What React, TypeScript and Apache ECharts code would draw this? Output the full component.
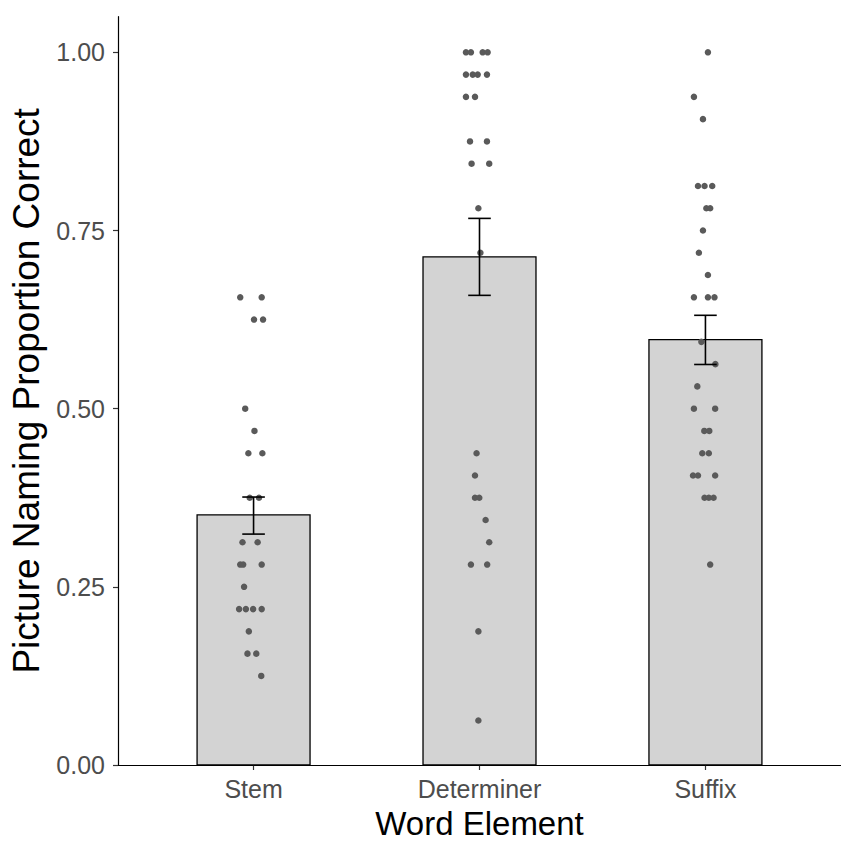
import React, { useEffect, useRef } from "react";
import * as echarts from "echarts";

// Word element categories (x axis)
const categories = ["Stem", "Determiner", "Suffix"];

// Group means and standard-error bounds
const meanValues = [0.351, 0.713, 0.597];
const errorLow = [0.324, 0.659, 0.562];
const errorHigh = [0.376, 0.767, 0.631];

// Y axis tick values
const yTicks = [0, 0.25, 0.5, 0.75, 1.0];

// Individual proportions: [proportion correct, horizontal jitter in category units]
const stemPoints: [number, number][] = [
  [0.65625, -0.059], [0.65625, 0.036],
  [0.625, 0.002], [0.625, 0.042],
  [0.5, -0.037],
  [0.46875, 0.004],
  [0.4375, -0.023], [0.4375, 0.039],
  [0.375, -0.017], [0.375, 0.024],
  [0.3125, -0.049], [0.3125, 0.018],
  [0.28125, -0.059], [0.28125, -0.046], [0.28125, 0.036],
  [0.25, -0.042],
  [0.21875, -0.064], [0.21875, -0.034], [0.21875, -0.002], [0.21875, 0.036],
  [0.1875, -0.021],
  [0.15625, -0.027], [0.15625, 0.012],
  [0.125, 0.034],
];

const determinerPoints: [number, number][] = [
  [1.0, -0.06], [1.0, -0.038], [1.0, 0.014], [1.0, 0.036],
  [0.96875, -0.06], [0.96875, -0.03], [0.96875, -0.008], [0.96875, 0.033],
  [0.9375, -0.06], [0.9375, -0.02],
  [0.875, -0.042], [0.875, 0.033],
  [0.84375, -0.035], [0.84375, 0.043],
  [0.78125, -0.005],
  [0.71875, 0.004],
  [0.4375, -0.013],
  [0.40625, -0.02],
  [0.375, -0.02], [0.375, -0.001],
  [0.34375, 0.027],
  [0.3125, 0.043],
  [0.28125, -0.038], [0.28125, 0.034],
  [0.1875, -0.005],
  [0.0625, -0.005],
];

const suffixPoints: [number, number][] = [
  [1.0, 0.011],
  [0.9375, -0.051],
  [0.90625, -0.011],
  [0.8125, -0.033], [0.8125, -0.004], [0.8125, 0.03],
  [0.78125, 0.004], [0.78125, 0.021],
  [0.75, -0.011],
  [0.71875, -0.029],
  [0.6875, 0.011],
  [0.65625, -0.051], [0.65625, 0.011], [0.65625, 0.04],
  [0.59375, -0.018],
  [0.5625, 0.044],
  [0.53125, -0.036],
  [0.5, -0.051], [0.5, 0.043],
  [0.46875, -0.005], [0.46875, 0.017],
  [0.4375, -0.014], [0.4375, 0.015],
  [0.40625, -0.055], [0.40625, -0.033], [0.40625, 0.043],
  [0.375, -0.004], [0.375, 0.015], [0.375, 0.036],
  [0.28125, 0.021],
];

const FONT = "'Liberation Sans', Arial, Helvetica, sans-serif";
const BAR_HALF = 0.25;
const CAP_HALF = 0.05;

export default function App() {
  const ref = useRef<HTMLDivElement>(null);

  useEffect(() => {
    document.body.style.margin = "0";
    if (!ref.current) return;
    const chart = echarts.init(ref.current, null, { renderer: "svg" });

    const groups = [stemPoints, determinerPoints, suffixPoints];
    const pointData: number[][] = [];
    groups.forEach((pts, gi) => {
      pts.forEach(([v, j]) => pointData.push([gi + 1 + j, v]));
    });

    const barData = meanValues.map((m, i) => [i + 1, m]);
    const errData = meanValues.map((_, i) => [i + 1, errorLow[i], errorHigh[i]]);

    chart.setOption({
      animation: false,
      backgroundColor: "#ffffff",
      grid: { left: 118, right: -5, top: 16.7, bottom: 72.3, containLabel: false },
      xAxis: {
        type: "value",
        min: 0.4,
        max: 3.6,
        name: "Word Element",
        nameLocation: "middle",
        nameGap: 42,
        nameTextStyle: { fontFamily: FONT, fontSize: 33, color: "#000000" },
        axisLine: { show: true, onZero: false, lineStyle: { color: "#000000", width: 1.2 } },
        axisTick: {
          show: true,
          customValues: [1, 2, 3],
          length: 5,
          lineStyle: { color: "#333333", width: 1.2 },
        },
        axisLabel: {
          customValues: [1, 2, 3],
          formatter: (v: number) => categories[Math.round(v) - 1] ?? "",
          margin: 11,
          fontFamily: FONT,
          fontSize: 25,
          color: "#4d4d4d",
        },
        splitLine: { show: false },
      },
      yAxis: {
        type: "value",
        min: 0,
        max: 1.05,
        name: "Picture Naming Proportion Correct",
        nameLocation: "middle",
        nameGap: 72,
        nameTextStyle: { fontFamily: FONT, fontSize: 37, color: "#000000" },
        axisLine: { show: true, onZero: false, lineStyle: { color: "#000000", width: 1.2 } },
        axisTick: {
          show: true,
          customValues: yTicks,
          length: 5,
          lineStyle: { color: "#333333", width: 1.2 },
        },
        axisLabel: {
          customValues: yTicks,
          formatter: (v: number) => v.toFixed(2),
          margin: 13,
          fontFamily: FONT,
          fontSize: 25,
          color: "#4d4d4d",
        },
        splitLine: { show: false },
      },
      series: [
        {
          type: "custom",
          name: "mean",
          data: barData,
          z: 1,
          renderItem: (params: any, api: any) => {
            const x = api.value(0);
            const y = api.value(1);
            const p0 = api.coord([x - BAR_HALF, y]);
            const p1 = api.coord([x + BAR_HALF, 0]);
            return {
              type: "rect",
              shape: { x: p0[0], y: p0[1], width: p1[0] - p0[0], height: p1[1] - p0[1] },
              style: { fill: "#d3d3d3", stroke: "#000000", lineWidth: 1.3 },
            };
          },
        },
        {
          type: "scatter",
          name: "participants",
          data: pointData,
          z: 2,
          symbol: "circle",
          symbolSize: 6.5,
          itemStyle: { color: "#5a5a5a", opacity: 1 },
        },
        {
          type: "custom",
          name: "se",
          data: errData,
          z: 3,
          renderItem: (params: any, api: any) => {
            const x = api.value(0);
            const lo = api.value(1);
            const hi = api.value(2);
            const top = api.coord([x, hi]);
            const bot = api.coord([x, lo]);
            const capL = api.coord([x - CAP_HALF, hi])[0];
            const capR = api.coord([x + CAP_HALF, hi])[0];
            const style = { stroke: "#000000", lineWidth: 1.6 };
            return {
              type: "group",
              children: [
                { type: "line", shape: { x1: top[0], y1: top[1], x2: bot[0], y2: bot[1] }, style },
                { type: "line", shape: { x1: capL, y1: top[1], x2: capR, y2: top[1] }, style },
                { type: "line", shape: { x1: capL, y1: bot[1], x2: capR, y2: bot[1] }, style },
              ],
            };
          },
        },
      ],
    });

    return () => chart.dispose();
  }, []);

  return <div ref={ref} style={{ width: 841, height: 845 }} />;
}
